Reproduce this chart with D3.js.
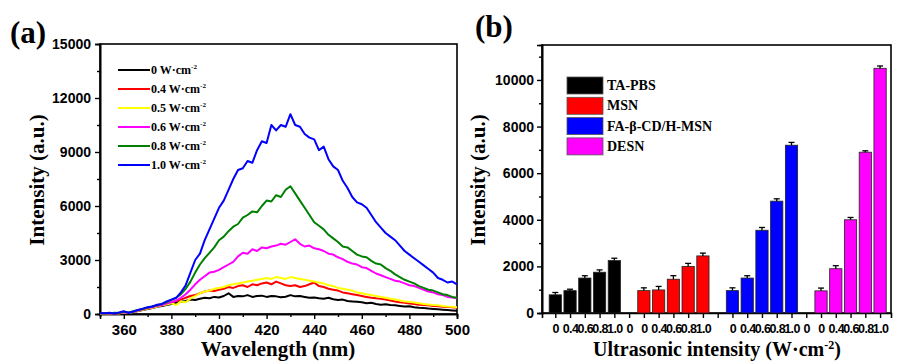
<!DOCTYPE html>
<html>
<head>
<meta charset="utf-8">
<script src="https://cdn.jsdelivr.net/npm/d3@7"></script>
<style>
  body { margin: 0; background: #fff; }
  svg { display: block; }
  .tick text { font-family: "Liberation Sans", Arial, sans-serif; font-weight: bold; }
</style>
</head>
<body>
<script>
// ---- panel (a): emission spectra ----
const wavelength = [350,352,354,356,358,360,362,364,366,368,370,372,374,376,378,380,382,384,386,388,
  390,392,394,396,398,400,402,404,406,408,410,412,414,416,418,420,422,424,426,428,
  430,432,434,436,438,440,442,444,446,448,450,452,454,456,458,460,462,464,466,468,
  470,472,474,476,478,480,482,484,486,488,490,492,494,496,498,500];

const w0 = [50,30,60,20,50,80,60,100,160,220,280,330,400,450,500,560,620,680,720,800,
  780,850,900,880,950,920,1000,1150,950,1000,980,1050,950,1000,1020,950,1000,980,930,960,
  1050,980,1000,950,900,920,880,850,900,820,780,800,720,700,680,650,600,620,560,520,
  540,500,480,450,420,430,380,350,330,300,280,260,240,220,200,180];
const w04 = [30,50,20,40,60,90,70,120,190,250,310,360,430,500,560,650,720,800,900,1000,
  1050,1150,1250,1300,1280,1350,1400,1500,1450,1550,1600,1500,1650,1600,1700,1750,1650,1800,1700,1600,
  1550,1600,1500,1550,1650,1750,1550,1500,1400,1350,1300,1200,1150,1100,1050,1000,950,900,870,850,
  800,750,700,650,620,580,550,520,500,480,450,430,400,390,370,350];
const w05 = [20,40,10,50,30,80,60,110,180,240,300,350,420,480,530,600,500,700,650,850,
  1000,1150,1250,1300,1400,1450,1500,1600,1650,1700,1750,1800,1850,1900,1950,2000,1950,2050,2000,1950,
  2050,2000,1950,1900,1850,1800,1750,1700,1600,1550,1450,1400,1350,1300,1200,1150,1100,1050,1000,950,
  900,850,800,750,700,680,640,600,560,530,500,480,450,420,400,380];
const w06 = [30,50,20,60,40,100,70,130,200,260,330,380,450,500,580,650,750,900,1100,1350,
  1650,1900,2100,2300,2350,2450,2600,2750,2900,3200,3400,3350,3600,3500,3700,3650,3750,3800,3900,3850,
  4000,4150,3900,3750,3800,3650,3600,3500,3350,3300,3150,3050,2900,2800,2750,2600,2550,2400,2250,2150,
  2050,1950,1850,1800,1700,1600,1550,1450,1350,1250,1200,1100,1050,950,920,880];
const w08 = [40,60,30,70,50,120,80,150,230,280,360,420,480,560,650,780,900,1100,1400,1800,
  2300,2750,3100,3400,3700,4100,4300,4600,4850,5000,5350,5500,5700,5650,6000,6300,6250,6600,6500,6900,
  7100,6700,6300,5900,5500,5100,4900,4700,4400,4200,4000,3750,3700,3500,3300,3200,3150,2950,2800,2750,
  2550,2400,2200,2050,1900,1800,1700,1550,1450,1350,1300,1200,1100,1050,950,900];
const w10 = [60,40,70,30,80,150,60,140,220,300,380,420,520,560,700,800,900,1200,1600,2300,
  3000,3350,4100,4700,5300,5900,6300,6900,7500,8000,8100,8500,8400,9100,9600,9500,10500,10200,10500,10400,
  11100,10500,10400,10000,9800,9700,9100,9300,8600,8200,8000,7400,7000,6500,6200,6100,5900,5500,5100,4800,
  4500,4300,4100,3800,3500,3300,3100,2900,2700,2500,2300,2000,1900,1750,1800,1650];

const spectraLabels = ["0", "0.4", "0.5", "0.6", "0.8", "1.0"];
const spectra = [w0, w04, w05, w06, w08, w10];
const spectraColors = ["#000000", "#ff0000", "#ffff00", "#ff00ff", "#008000", "#0000ff"];

// ---- panel (b): bar chart ----
const groups = ["TA-PBS", "MSN", "FA-β-CD/H-MSN", "DESN"];
// tick labels under the 23 slots (5 bars + 1 gap per group)
const slotLabels = ["0","0.4","0.6","0.8","1.0","0",
                    "0","0.4","0.6","0.8","1.0","",
                    "0","0.4","0.6","0.8","1.0","0",
                    "0","0.4","0.6","0.8","1.0"];
const taPbs = [780, 960, 1500, 1750, 2250];
const msn = [960, 990, 1450, 2000, 2450];
const faCdMsn = [960, 1500, 3550, 4800, 7200];
const desn = [950, 1900, 4000, 6900, 10500];
const taPbsErr = [100, 60, 100, 100, 100];
const msnErr = [120, 150, 150, 130, 120];
const faCdMsnErr = [120, 100, 120, 100, 120];
const desnErr = [120, 130, 100, 60, 100];
const barColors = ["#000000", "#ff0000", "#0000ff", "#ff00ff"];

const svg = d3.select("body").append("svg")
  .attr("width", 898).attr("height", 363);

const serif = "'Liberation Serif', 'Times New Roman', serif";

function styleAxis(g) {
  g.select(".domain").attr("stroke", "#000").attr("stroke-width", 1.6);
  g.selectAll(".tick line").attr("stroke", "#000").attr("stroke-width", 1.4);
  g.selectAll(".tick text").attr("fill", "#000").style("font-size", "14px");
}

// ===== panel (a) =====
const xa = d3.scaleLinear().domain([350, 500]).range([100, 457]);
const ya = d3.scaleLinear().domain([0, 15000]).range([314, 44]);

// frame
svg.append("rect").attr("x", 100).attr("y", 44).attr("width", 357).attr("height", 270)
  .attr("fill", "none").attr("stroke", "#000").attr("stroke-width", 1.6);

svg.append("g").attr("transform", "translate(0,314)")
  .call(d3.axisBottom(xa).tickValues(d3.range(350, 500, 20)).tickSize(3).tickFormat(""))
  .call(styleAxis);
svg.append("g").attr("transform", "translate(0,314)")
  .call(d3.axisBottom(xa).tickValues(d3.range(360, 501, 20)).tickSize(5).tickPadding(5).tickFormat(d3.format("d")))
  .call(styleAxis)
  .call(g => g.selectAll(".tick text").style("font-size", "15px"));

svg.append("g").attr("transform", "translate(100,0)")
  .call(d3.axisLeft(ya).tickValues(d3.range(1500, 15000, 3000)).tickSize(3).tickFormat(""))
  .call(styleAxis);
svg.append("g").attr("transform", "translate(100,0)")
  .call(d3.axisLeft(ya).tickValues(d3.range(0, 15001, 3000)).tickSize(5).tickPadding(4).tickFormat(d3.format("d")))
  .call(styleAxis);

const line = d3.line()
  .x((d, i) => xa(wavelength[i]))
  .y(d => ya(d));

svg.append("g").selectAll("path")
  .data(spectra)
  .join("path")
  .attr("d", d => line(d))
  .attr("fill", "none")
  .attr("stroke", (d, i) => spectraColors[i])
  .attr("stroke-width", 2)
  .attr("stroke-linejoin", "round");

// legend (a)
const legA = svg.append("g");
spectraLabels.forEach((lab, i) => {
  const yy = 70 + i * 19;
  legA.append("line").attr("x1", 118).attr("x2", 150).attr("y1", yy).attr("y2", yy)
    .attr("stroke", spectraColors[i]).attr("stroke-width", 2);
  const t = legA.append("text").attr("x", 151).attr("y", yy + 4)
    .style("font-family", serif).style("font-weight", "bold").style("font-size", "12px");
  t.append("tspan").text(lab + " W·cm");
  t.append("tspan").attr("dy", -5).style("font-size", "7px").text("-2");
});

svg.append("text").attr("x", 10).attr("y", 43).text("(a)")
  .style("font-family", serif).style("font-weight", "bold").style("font-size", "31px");
svg.append("text").attr("x", 278).attr("y", 356).attr("text-anchor", "middle")
  .text("Wavelength (nm)")
  .style("font-family", serif).style("font-weight", "bold").style("font-size", "21px");
svg.append("text").attr("transform", "translate(44,180) rotate(-90)").attr("text-anchor", "middle")
  .text("Intensity (a.u.)")
  .style("font-family", serif).style("font-weight", "bold").style("font-size", "21px");

// ===== panel (b) =====
const xb = d3.scaleLinear().domain([0.1, 23.74]).range([542, 891]);
const yb = d3.scaleLinear().domain([0, 11500]).range([313, 45]);

svg.append("rect").attr("x", 542).attr("y", 45).attr("width", 349).attr("height", 268)
  .attr("fill", "none").attr("stroke", "#000").attr("stroke-width", 1.6);

svg.append("g").attr("transform", "translate(542,0)")
  .call(d3.axisLeft(yb).tickValues(d3.range(1000, 11500, 2000)).tickSize(3).tickFormat(""))
  .call(styleAxis);
svg.append("g").attr("transform", "translate(542,0)")
  .call(d3.axisLeft(yb).tickValues(d3.range(0, 10001, 2000)).tickSize(5).tickPadding(3).tickFormat(d3.format("d")))
  .call(styleAxis);

const barSeries = [taPbs, msn, faCdMsn, desn];
const barErrs = [taPbsErr, msnErr, faCdMsnErr, desnErr];
const bars = [];
barSeries.forEach((vals, g) => vals.forEach((v, i) => {
  bars.push({ g, i, slot: g * 6 + i + 1, v, e: barErrs[g][i] });
}));

const slots = d3.range(1, 24);
svg.append("g").attr("transform", "translate(0,313)")
  .call(d3.axisBottom(xb).tickValues(slots).tickSize(5).tickPadding(6)
    .tickFormat(s => slotLabels[s - 1]))
  .call(styleAxis)
  .call(g => g.selectAll(".tick text").style("font-size", "12.5px").attr("letter-spacing", "-0.6"));

const bw = (xb(2) - xb(1)) * 0.83;
svg.append("g").selectAll("rect")
  .data(bars)
  .join("rect")
  .attr("x", d => xb(d.slot) - bw / 2)
  .attr("width", bw)
  .attr("y", d => yb(d.v))
  .attr("height", d => yb(0) - yb(d.v))
  .attr("fill", d => barColors[d.g])
  .attr("stroke", "#222").attr("stroke-width", 0.8);

const eg = svg.append("g").attr("stroke", "#000").attr("stroke-width", 1.3);
bars.forEach(d => {
  const cx = xb(d.slot);
  eg.append("line").attr("x1", cx).attr("x2", cx).attr("y1", yb(d.v)).attr("y2", yb(d.v + d.e));
  eg.append("line").attr("x1", cx - 3).attr("x2", cx + 3).attr("y1", yb(d.v + d.e)).attr("y2", yb(d.v + d.e));
});

// legend (b)
const legB = svg.append("g");
groups.forEach((name, i) => {
  const yy = 77 + i * 20.3;
  legB.append("rect").attr("x", 567).attr("y", yy).attr("width", 36).attr("height", 17)
    .attr("fill", barColors[i]).attr("stroke", "#555").attr("stroke-width", 0.8);
  legB.append("text").attr("x", 607).attr("y", yy + 13).text(name)
    .style("font-family", serif).style("font-weight", "bold").style("font-size", "14px");
});

svg.append("text").attr("x", 475).attr("y", 37).text("(b)")
  .style("font-family", serif).style("font-weight", "bold").style("font-size", "31px");
const xt = svg.append("text").attr("x", 717).attr("y", 356).attr("text-anchor", "middle")
  .style("font-family", serif).style("font-weight", "bold").style("font-size", "20px");
xt.append("tspan").text("Ultrasonic intensity (W·cm");
xt.append("tspan").attr("dy", -7).style("font-size", "12px").text("-2");
xt.append("tspan").attr("dy", 7).text(")");
svg.append("text").attr("transform", "translate(485,180) rotate(-90)").attr("text-anchor", "middle")
  .text("Intensity (a.u.)")
  .style("font-family", serif).style("font-weight", "bold").style("font-size", "21px");
</script>
</body>
</html>
